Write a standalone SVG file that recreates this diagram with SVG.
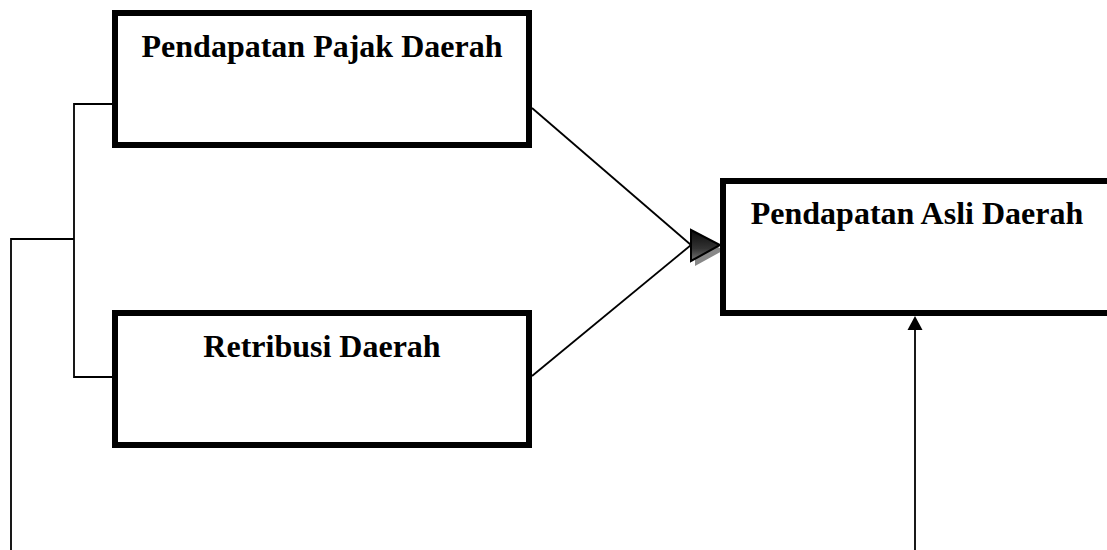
<svg xmlns="http://www.w3.org/2000/svg" width="1107" height="550" viewBox="0 0 1107 550">
  <style>
    .box { fill: #ffffff; stroke: #000000; stroke-width: 6; }
    .lbl { font-family: "Liberation Serif", "Times New Roman", serif; font-weight: bold; font-size: 32px; fill: #000000; }
    .conn { fill: none; stroke: #000000; stroke-width: 1.8; }
  </style>
  <defs>
    <linearGradient id="arrowGrad" x1="0" y1="0" x2="0" y2="1">
      <stop offset="0" stop-color="#0a0a0a"/>
      <stop offset="0.6" stop-color="#333333"/>
      <stop offset="1" stop-color="#777777"/>
    </linearGradient>
  </defs>
  <rect x="0" y="0" width="1107" height="550" fill="#ffffff"/>

  <g id="connectors">
    <polyline class="conn" points="112,104 74,104 74,377 112,377"/>
    <polyline class="conn" points="74,239 11,239 11,550"/>
    <line class="conn" x1="532" y1="108" x2="691" y2="245"/>
    <line class="conn" x1="532" y1="376" x2="691" y2="245"/>
    <g id="arrow-pad">
      <polygon points="695,236 724,250 695,266" fill="#888888"/>
      <polygon points="691,230 720,245 691,261" fill="url(#arrowGrad)" stroke="#000000" stroke-width="2" stroke-linejoin="miter"/>
    </g>
    <line class="conn" x1="915" y1="550" x2="915" y2="328"/>
    <polygon points="915,316 907.5,330 922.5,330" fill="#000000"/>
  </g>

  <g id="node-pajak">
    <rect class="box" x="115" y="13" width="414" height="132"/>
    <text class="lbl" x="322" y="57" text-anchor="middle">Pendapatan Pajak Daerah</text>
  </g>

  <g id="node-retribusi">
    <rect class="box" x="115" y="313" width="414" height="132"/>
    <text class="lbl" x="322" y="357" text-anchor="middle">Retribusi Daerah</text>
  </g>

  <g id="node-pad">
    <rect class="box" x="723" y="181" width="400" height="132"/>
    <text class="lbl" x="917" y="224" text-anchor="middle">Pendapatan Asli Daerah</text>
  </g>
</svg>
